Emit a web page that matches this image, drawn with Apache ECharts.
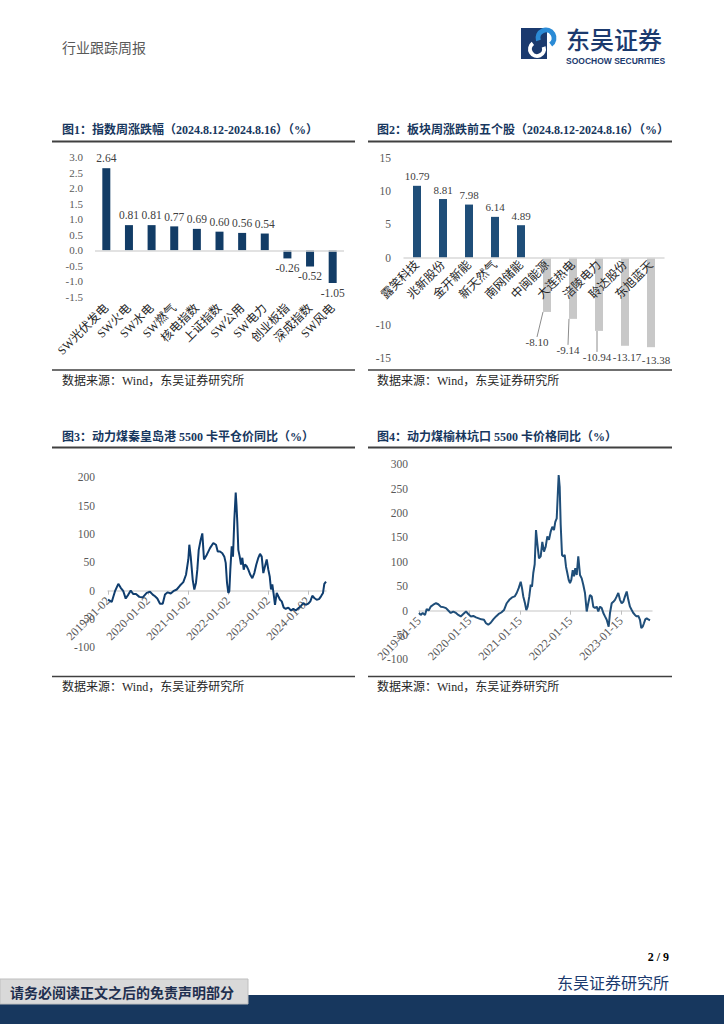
<!DOCTYPE html>
<html><head><meta charset="utf-8">
<script src="https://cdn.jsdelivr.net/npm/echarts@6.0.0/dist/echarts.min.js"></script>
<style>html,body{margin:0;padding:0;background:#fff;}#main{width:724px;height:1024px;}</style>
</head><body><div id="main"></div>
<script>
// ---------- data ----------
const c1Categories = ['SW光伏发电','SW火电','SW水电','SW燃气','核电指数','上证指数','SW公用','SW电力','创业板指','深成指数','SW风电'];
const c1Values = [2.64,0.81,0.81,0.77,0.69,0.60,0.56,0.54,-0.26,-0.52,-1.05];

const c2Categories = ['露笑科技','兆新股份','金开新能','新天然气','南网储能','中闽能源','大连热电','涪陵电力','聆达股份','东旭蓝天'];
const c2Values = [10.79,8.81,7.98,6.14,4.89,-8.10,-9.14,-10.94,-13.17,-13.38];

const c3TickLabels = ['2019-01-02','2020-01-02','2021-01-02','2022-01-02','2023-01-02','2024-01-02'];
const c3Years = [2019.000,2019.093,2019.175,2019.258,2019.318,2019.383,2019.443,2019.508,2019.568,2019.633,
2019.700,2019.783,2019.868,2019.968,2020.050,2020.118,2020.175,2020.233,2020.300,2020.368,
2020.425,2020.493,2020.568,2020.633,2020.718,2020.800,2020.883,2020.950,2021.008,2021.033,
2021.068,2021.118,2021.158,2021.200,2021.233,2021.268,2021.318,2021.358,2021.400,2021.468,
2021.550,2021.633,2021.700,2021.743,2021.800,2021.858,2021.908,2021.943,2021.975,2022.008,
2022.033,2022.058,2022.093,2022.125,2022.158,2022.193,2022.213,2022.233,2022.258,2022.293,
2022.325,2022.358,2022.393,2022.425,2022.468,2022.508,2022.558,2022.608,2022.658,2022.708,
2022.758,2022.800,2022.843,2022.883,2022.925,2022.968,2023.008,2023.043,2023.075,2023.108,
2023.143,2023.175,2023.218,2023.258,2023.300,2023.343,2023.393,2023.443,2023.508,2023.575,
2023.633,2023.693,2023.758,2023.825,2023.883,2023.943,2024.008,2024.058,2024.108,2024.158,
2024.218,2024.275,2024.325,2024.375,2024.408,2024.450];
const c3Values = [-16,-20,-1,12,5,-1,-14,-7,0,-6,
-6,-11,-12,-4,-2,-7,-10,-14,-23,-23,
-7,-3,-5,-1,2,9,15,28,55,81,
60,19,2,14,37,72,90,101,55,63,
75,84,81,69,69,66,60,49,14,-4,
-1,37,78,60,125,173,150,120,72,60,
46,58,37,46,43,37,28,22,31,46,
58,65,60,31,43,55,37,25,2,11,
-7,-25,-4,-10,-16,-19,-30,-32,-30,-35,
-32,-35,-31,-27,-22,-25,-23,-19,-9,-13,
-16,-15,-10,-4,12,16];

const c4TickLabels = ['2019-01-15','2020-01-15','2021-01-15','2022-01-15','2023-01-15'];
const c4Years = [2019.000,2019.034,2019.073,2019.119,2019.152,2019.192,2019.232,2019.283,2019.337,2019.382,
2019.430,2019.481,2019.535,2019.580,2019.628,2019.679,2019.733,2019.778,2019.826,2019.877,
2019.931,2019.976,2020.024,2020.075,2020.129,2020.182,2020.234,2020.287,2020.327,2020.372,
2020.420,2020.471,2020.525,2020.578,2020.630,2020.683,2020.737,2020.788,2020.842,2020.895,
2020.935,2020.974,2021.014,2021.040,2021.065,2021.099,2021.125,2021.152,2021.184,2021.212,
2021.238,2021.263,2021.291,2021.317,2021.343,2021.376,2021.410,2021.442,2021.475,2021.509,
2021.541,2021.574,2021.608,2021.640,2021.673,2021.699,2021.727,2021.752,2021.766,2021.786,
2021.806,2021.832,2021.857,2021.885,2021.911,2021.937,2021.964,2021.990,2022.016,2022.044,
2022.069,2022.095,2022.123,2022.154,2022.188,2022.222,2022.253,2022.287,2022.321,2022.352,
2022.386,2022.420,2022.451,2022.485,2022.519,2022.550,2022.584,2022.618,2022.650,2022.683,
2022.717,2022.756,2022.782,2022.816,2022.848,2022.881,2022.915,2022.947,2022.980,2023.014,
2023.046,2023.079,2023.113,2023.145,2023.178,2023.212,2023.244,2023.277,2023.311,2023.343,
2023.376,2023.402,2023.430,2023.455,2023.481,2023.509,2023.541,2023.574];
const c4Values = [-5,-9,-5,-9,3,0,8,12,15,13,
8,7,5,0,-5,-2,-5,-9,-12,-7,
-2,-7,-12,-11,-14,-16,-18,-19,-26,-29,
-25,-18,-12,-7,-4,1,15,22,27,29,
36,46,59,46,29,15,1,8,29,53,
49,77,95,165,138,107,111,141,121,131,
152,145,162,172,165,182,189,247,278,254,
176,114,111,114,90,77,63,56,63,83,
70,87,73,111,73,66,53,36,-2,15,
32,29,8,5,8,-2,8,5,-5,-12,
-19,-33,-5,15,18,22,29,36,22,15,
18,29,39,22,8,1,-5,-9,-12,-11,
-19,-36,-33,-26,-18,-16,-18,-20];

// ---------- styling ----------
const SERIF = '"Liberation Serif", "Noto Sans CJK SC", serif';
const CJK = '"Noto Sans CJK SC", sans-serif';
const NAVY = '#17375e';
const c2LabelShift = {5:[-10,21], 6:[-5,22], 7:[-2,17], 8:[2,1.5], 9:[5,3]};
const c2Leader = [5,6,7];

function txt(x, y, text, font, fill, align) {
  align = align || 'left';
  return {type:'text', x:x, y:y, silent:true, z:10,
    style:{text:text, font:font, fill:fill, textAlign:align, textVerticalAlign:'middle', align:align, verticalAlign:'middle'}};
}
function hline(x1, x2, y, w, color) {
  return {type:'line', silent:true, shape:{x1:x1, y1:y, x2:x2, y2:y}, style:{stroke:color, lineWidth:w}};
}
function yearLabel(labels) {
  return function (v) {
    const i = Math.round(v - 2019);
    return Math.abs(v - 2019 - i) < 1e-6 && labels[i] ? labels[i] : '';
  };
}
const c3TickYears = c3TickLabels.map(s => +s.slice(0, 4));
const c4TickYears = c4TickLabels.map(s => +s.slice(0, 4));

const chart = echarts.init(document.getElementById('main'), null, {renderer:'svg', width:724, height:1024});

const zeroLine = {silent:true, symbol:'none', label:{show:false}, lineStyle:{color:'#d9d9d9', width:1.5, type:'solid'}, data:[{yAxis:0}]};
const yLab = {fontSize:11.5, color:'#595959', fontFamily:SERIF, margin:12};
const noAxis = {axisLine:{show:false}, axisTick:{show:false}, splitLine:{show:false}};

const option = {
  animation:false,
  backgroundColor:'#fff',
  grid:[
    {left:95, top:157, width:249, height:140},
    {left:404, top:157.7, width:260, height:200.3},
    {left:108, top:477.3, width:218, height:170},
    {left:419, top:464.3, width:233, height:195}
  ],
  xAxis:[
    {gridIndex:0, type:'category', data:c1Categories, axisLine:{show:false, onZero:false}, axisTick:{show:false},
     axisLabel:{rotate:45, interval:0, margin:9, fontSize:12, color:'#262626', fontFamily:SERIF}},
    {gridIndex:1, type:'category', data:c2Categories, offset:-100.3, z:5,
     axisLine:{onZero:false, lineStyle:{color:'#d9d9d9', width:1.5}}, axisTick:{show:false},
     axisLabel:{rotate:45, interval:0, margin:5, fontSize:12, color:'#262626', fontFamily:SERIF}},
    {gridIndex:2, type:'value', min:2019, max:2024.45, interval:1, splitLine:{show:false}, offset:-56.6,
     axisLine:{onZero:false, lineStyle:{color:'#d9d9d9', width:1.5}},
     axisTick:{show:true, length:4, lineStyle:{color:'#bfbfbf'}, customValues:c3TickYears},
     axisLabel:{rotate:45, margin:8, fontSize:12, color:'#595959', fontFamily:SERIF, customValues:c3TickYears, formatter:yearLabel(c3TickLabels)}},
    {gridIndex:3, type:'value', min:2019, max:2023.614, interval:1, splitLine:{show:false}, offset:-48.6,
     axisLine:{onZero:false, lineStyle:{color:'#d9d9d9', width:1.5}},
     axisTick:{show:true, length:4, lineStyle:{color:'#bfbfbf'}, customValues:c4TickYears},
     axisLabel:{rotate:45, margin:8, fontSize:12, color:'#595959', fontFamily:SERIF, customValues:c4TickYears, formatter:yearLabel(c4TickLabels)}}
  ],
  yAxis:[
    Object.assign({gridIndex:0, type:'value', min:-1.5, max:3, interval:0.5, axisLabel:Object.assign({}, yLab, {fontSize:11, formatter:v => v.toFixed(1)})}, noAxis),
    Object.assign({gridIndex:1, type:'value', min:-15, max:15, interval:5, axisLabel:Object.assign({}, yLab, {margin:13, formatter:v => v === -5 ? '' : String(v)})}, noAxis),
    Object.assign({gridIndex:2, type:'value', min:-100, max:200, interval:50, axisLabel:Object.assign({}, yLab, {margin:13})}, noAxis),
    Object.assign({gridIndex:3, type:'value', min:-100, max:300, interval:50, axisLabel:Object.assign({}, yLab, {margin:11})}, noAxis)
  ],
  series:[
    {type:'bar', xAxisIndex:0, yAxisIndex:0, data:c1Values, barWidth:8, itemStyle:{color:'#123c66'},
     label:{show:true, position:'outside', distance:4, formatter:p => p.value.toFixed(2), fontSize:11.5, color:'#404040', fontFamily:SERIF},
     markLine:zeroLine, z:3},
    {type:'bar', xAxisIndex:1, yAxisIndex:1, barWidth:8,
     data:c2Values.map((v, i) => ({value:v, itemStyle:{color: v >= 0 ? '#1f4e79' : '#c8c8c8'}, labelLine:{show: c2Leader.indexOf(i) >= 0}})),
     label:{show:true, position:'outside', distance:4, formatter:p => p.value.toFixed(2), fontSize:11, color:'#404040', fontFamily:SERIF},
     labelLine:{show:true, lineStyle:{color:'#8c8c8c', width:1}},
     labelLayout:function (params) {
       const i = params.dataIndex, s = c2LabelShift[i];
       if (!s) return {};
       if (c2Leader.indexOf(i) >= 0) {
         return {x:params.labelRect.x + s[0], y:params.labelRect.y + s[1], align:'left', verticalAlign:'top'};
       }
       return {dx:s[0], dy:s[1]};
     }},
    {type:'line', xAxisIndex:2, yAxisIndex:2, data:c3Years.map((x, i) => [x, c3Values[i]]), showSymbol:false, symbol:'none',
     lineStyle:{color:'#0f3d6e', width:2}, z:3},
    {type:'line', xAxisIndex:3, yAxisIndex:3, data:c4Years.map((x, i) => [x, c4Values[i]]), showSymbol:false, symbol:'none',
     lineStyle:{color:'#1f4e79', width:2}, z:3}
  ],
  graphic:[
    // header
    txt(62, 47, '行业跟踪周报', '14px ' + CJK, '#595959'),
    {type:'rect', silent:true, shape:{x:521, y:28, width:26, height:31}, style:{fill:'#1b3a6e'}},
    {type:'arc', silent:true, shape:{cx:546, cy:38, r:8, startAngle:Math.PI * 0.9, endAngle:Math.PI * 2.3, clockwise:true}, style:{stroke:'#2b8bd6', lineWidth:5, fill:'none'}},
    {type:'arc', silent:true, shape:{cx:537, cy:49, r:7, startAngle:-Math.PI * 0.1, endAngle:Math.PI * 1.3, clockwise:true}, style:{stroke:'#ffffff', lineWidth:4, fill:'none'}},
    txt(566, 38, '东吴证券', '500 24px ' + CJK, '#1b3a6e'),
    txt(566, 60.5, 'SOOCHOW SECURITIES', 'bold 8.5px "Liberation Sans", Arial, sans-serif', '#1b3a6e'),
    // titles & rules
    txt(62, 130, '图1：指数周涨跌幅（2024.8.12-2024.8.16）（%）', 'bold 12px ' + SERIF, NAVY),
    txt(377, 130, '图2：板块周涨跌前五个股（2024.8.12-2024.8.16）（%）', 'bold 12px ' + SERIF, NAVY),
    txt(62, 436.5, '图3：动力煤秦皇岛港 5500 卡平仓价同比（%）', 'bold 12px ' + SERIF, NAVY),
    txt(377, 436.5, '图4：动力煤榆林坑口 5500 卡价格同比（%）', 'bold 12px ' + SERIF, NAVY),
    hline(52, 355, 141.5, 2, '#404040'), hline(368, 672, 141.5, 2, '#404040'),
    hline(52, 355, 370, 1.5, '#404040'), hline(368, 672, 370, 1.5, '#404040'),
    hline(52, 355, 447.5, 2, '#404040'), hline(368, 672, 447.5, 2, '#404040'),
    hline(52, 355, 676.5, 1.5, '#404040'), hline(368, 672, 676.5, 1.5, '#404040'),
    txt(62, 381, '数据来源：Wind，东吴证券研究所', '12px ' + SERIF, '#262626'),
    txt(377, 381, '数据来源：Wind，东吴证券研究所', '12px ' + SERIF, '#262626'),
    txt(62, 687, '数据来源：Wind，东吴证券研究所', '12px ' + SERIF, '#262626'),
    txt(377, 687, '数据来源：Wind，东吴证券研究所', '12px ' + SERIF, '#262626'),
    // footer
    txt(669, 957, '2 / 9', 'bold 12px ' + SERIF, '#000000', 'right'),
    txt(669, 982, '东吴证券研究所', '16px ' + CJK, '#1b3a6e', 'right'),
    {type:'rect', silent:true, shape:{x:0, y:995, width:724, height:29}, style:{fill:'#17375e'}},
    {type:'rect', silent:true, z:5, shape:{x:0, y:979, width:248, height:25}, style:{fill:'#d9d9d9', stroke:'#bfbfbf', lineWidth:1}},
    txt(10, 991.5, '请务必阅读正文之后的免责声明部分', 'bold 14px ' + CJK, '#1f2f4f')
  ]
};
chart.setOption(option);
</script>
</body></html>
